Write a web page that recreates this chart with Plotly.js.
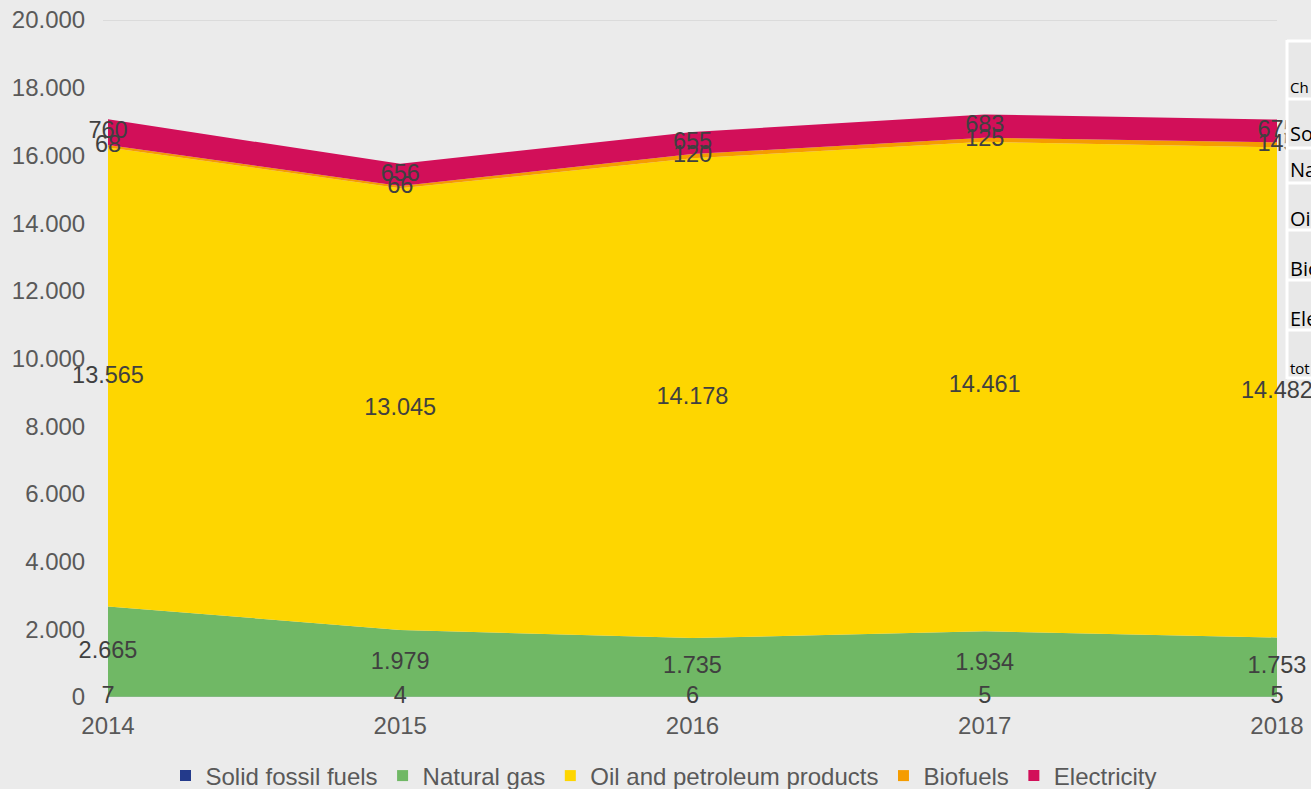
<!DOCTYPE html>
<html>
<head>
<meta charset="utf-8">
<script src="https://cdn.plot.ly/plotly-3.0.1.min.js"></script>
<style>
html,body{margin:0;padding:0;background:#ebebeb;}
#chart{width:1311px;height:789px;}
</style>
</head>
<body>
<div id="chart"></div>
<script>
// ---- data ----
const years = [2014, 2015, 2016, 2017, 2018];
const seriesNames = ["Solid fossil fuels", "Natural gas", "Oil and petroleum products", "Biofuels", "Electricity"];
const solidFossil = [7, 4, 6, 5, 5];
const naturalGas = [2665, 1979, 1735, 1934, 1753];
const oilPetroleum = [13565, 13045, 14178, 14461, 14482];
const biofuels = [68, 66, 120, 125, 145];
const electricity = [760, 656, 655, 683, 675];
const yTickVals = [0, 2000, 4000, 6000, 8000, 10000, 12000, 14000, 16000, 18000, 20000];
const tableRowLabels = ["Ch", "So", "Na", "Oi", "Bio", "Ele", "tot"];

const seriesValues = [solidFossil, naturalGas, oilPetroleum, biofuels, electricity];
const colors = ["#233a8b", "#70b865", "#fed600", "#f59c00", "#d20f59"];

// ---- layout geometry helpers (pixel -> paper) ----
const PL = 108, PR = 1277, PT = 20, PB = 697;
const W = PR - PL, H = PB - PT;
const px = v => (v - PL) / W;
const py = v => (PB - v) / H;

const traces = [];
// stacked areas
seriesValues.forEach((vals, i) => {
  traces.push({
    type: "scatter", x: years, y: vals, name: seriesNames[i],
    stackgroup: "one", mode: "none", fillcolor: colors[i],
    line: {width: 0}, showlegend: false, hoverinfo: "skip"
  });
});
// data labels at the middle of each band
const fmt = v => v.toLocaleString("de-DE");
let base = years.map(() => 0);
seriesValues.forEach((vals, i) => {
  const mid = vals.map((v, k) => base[k] + v / 2);
  traces.push({
    type: "scatter", x: years, y: mid, mode: "text",
    text: vals.map(fmt), textposition: "middle center",
    textfont: {family: "Liberation Sans, Arial, sans-serif", size: 23.5, color: "#404040"},
    cliponaxis: false, showlegend: false, hoverinfo: "skip"
  });
  base = base.map((b, k) => b + vals[k]);
});
// legend entries
seriesNames.forEach((n, i) => {
  traces.push({
    type: "scatter", x: [null], y: [null], name: n, mode: "markers",
    marker: {symbol: "square", size: 11, color: colors[i]}, showlegend: true
  });
});

// table (cut-off at right)
const rowLines = [41, 99, 148, 183, 230, 280, 330, 378];
const shapes = [{
  type: "line", xref: "paper", yref: "y", x0: px(103), x1: 1, y0: 20000, y1: 20000,
  line: {color: "#d6d6d6", width: 1.5}, layer: "below"
}, {
  type: "rect", xref: "paper", yref: "paper", x0: px(1287), x1: px(1320), y0: py(378), y1: py(41),
  fillcolor: "#e8e8e8", line: {width: 0}, layer: "above"
}, {
  type: "line", xref: "paper", yref: "paper", x0: px(1287), x1: px(1287), y0: py(379), y1: py(40),
  line: {color: "#ffffff", width: 3}, layer: "above"
}];
rowLines.forEach(r => shapes.push({
  type: "line", xref: "paper", yref: "paper", x0: px(1287), x1: px(1320), y0: py(r), y1: py(r),
  line: {color: "#ffffff", width: 3}, layer: "above"
}));
const textY = [87, 133, 170, 218, 268, 318, 368];
const textSize = [15, 20, 20, 20, 20, 20, 15];
const annotations = tableRowLabels.map((t, i) => ({
  xref: "paper", yref: "paper", x: px(1288), y: py(textY[i]), xanchor: "left", yanchor: "middle",
  text: t, showarrow: false,
  font: {family: "Open Sans, Liberation Sans, sans-serif", size: textSize[i], color: "#000000"}
}));

const layout = {
  width: 1311, height: 789,
  margin: {l: PL, r: 1311 - PR, t: PT, b: 789 - PB, autoexpand: false},
  paper_bgcolor: "#ebebeb", plot_bgcolor: "#ebebeb",
  separators: ",.",
  font: {family: "Liberation Sans, Arial, sans-serif", color: "#595959", size: 24},
  xaxis: {
    range: [2014, 2018], tickvals: years, ticktext: years.map(String),
    showgrid: false, zeroline: false, showline: false,
    ticks: "outside", ticklen: 7, tickcolor: "rgba(0,0,0,0)",
    tickfont: {size: 24, color: "#595959"}
  },
  yaxis: {
    range: [0, 20000], tickvals: yTickVals, tickformat: ",d",
    showgrid: false, zeroline: false, showline: false,
    ticks: "outside", ticklen: 17, tickcolor: "rgba(0,0,0,0)",
    tickfont: {size: 24, color: "#595959"}
  },
  legend: {
    orientation: "h", x: px(664), xanchor: "center", y: py(776), yanchor: "middle",
    font: {size: 24, color: "#595959"}, itemwidth: 30, bgcolor: "rgba(0,0,0,0)",
    traceorder: "normal", tracegroupgap: 0
  },
  shapes: shapes,
  annotations: annotations,
  showlegend: true
};

Plotly.newPlot("chart", traces, layout, {displayModeBar: false, staticPlot: true});
</script>
</body>
</html>
